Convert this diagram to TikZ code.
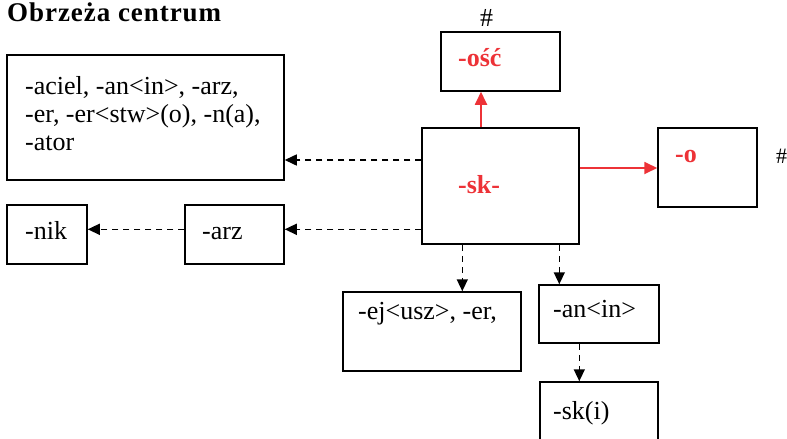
\documentclass[tikz,border=0pt]{standalone}
\usepackage{fontspec}
\setmainfont{Liberation Serif}
\newfontfamily\titlefont[LetterSpace=3.5]{Liberation Serif}
\usetikzlibrary{arrows.meta}
\definecolor{skred}{RGB}{237,50,55}

\begin{document}
\begin{tikzpicture}[
    x=1pt, y=-1pt,
    box/.style={draw, line width=1.5pt, inner sep=0pt},
    txt/.style={anchor=base west, inner sep=0pt, font=\fontsize{26}{28.2}\selectfont},
    hot/.style={txt, font=\fontsize{26}{28.2}\selectfont\bfseries, text=skred},
    dep/.style={line width=1.5pt, dash pattern=on 6pt off 5pt, -{Triangle[length=12pt,width=11pt]}},
    rel/.style={line width=1.8pt, draw=skred, fill=skred, -{Triangle[length=13pt,width=12pt]}}
  ]
  \useasboundingbox (0,0) rectangle (787,439);
  % boxes
  \node[box, minimum width=119pt, minimum height=59pt] (osc) at (500.5,61.5) {};
  \node[box, minimum width=157pt, minimum height=116pt] (sk) at (500.5,186) {};
  \node[box, minimum width=99pt, minimum height=79pt] (o) at (707.5,167.5) {};
  \node[box, minimum width=277pt, minimum height=125pt] (big) at (145.5,117.5) {};
  \node[box, minimum width=80pt, minimum height=59pt] (nik) at (47,234.5) {};
  \node[box, minimum width=99pt, minimum height=59pt] (arz) at (234.5,234.5) {};
  \node[box, minimum width=178pt, minimum height=79pt] (ej) at (432,331.5) {};
  \node[box, minimum width=120pt, minimum height=58pt] (an) at (599,314) {};
  \node[box, minimum width=118pt, minimum height=78pt] (ski) at (599,421) {};
  % texts
  \node[txt, font=\fontsize{27}{30}\selectfont] (title) at (7,21) {\titlefont\bfseries Obrzeża centrum};
  \node[txt] (hash-a) at (480,26) {\#};
  \node[txt, font=\fontsize{22}{24}\selectfont] (hash-b) at (776,163) {\#};
  \node[hot] (osc-t) at (458,66.7) {-ość};
  \node[hot] (sk-t) at (458,193) {-sk-};
  \node[hot] (o-t) at (675,162.7) {-o};
  \node[txt, align=left] (big-t) at (25,150.7) {-aciel, -an<in>, -arz,\\-er, -er<stw>(o), -n(a),\\-ator};
  \node[txt] (nik-t) at (25,239) {-nik};
  \node[txt] (arz-t) at (202,239) {-arz};
  \node[txt] (ej-t) at (358,319) {-ej<usz>, -er,};
  \node[txt] (an-t) at (553,317) {-an<in>};
  \node[txt] (ski-t) at (553,419) {-sk(i)};
  % connectors
  \coordinate (ya) at (0,160);
  \coordinate (yb) at (0,229.3);
  \coordinate (yc) at (0,168);
  \coordinate (xa) at (462.3,0);
  \coordinate (xb) at (559.3,0);
  \coordinate (xc) at (579.3,0);
  \coordinate (xd) at (481,0);
  \draw[rel] (sk.north -| xd) -- (osc.south -| xd);
  \draw[rel] (sk.east |- yc) -- (o.west |- yc);
  \draw[dep] (sk.west |- ya) -- (big.east |- ya);
  \draw[dep] (sk.west |- yb) -- (arz.east |- yb);
  \draw[dep] (arz.west |- yb) -- (nik.east |- yb);
  \draw[dep] (sk.south -| xa) -- (ej.north -| xa);
  \draw[dep] (sk.south -| xb) -- (an.north -| xb);
  \draw[dep] (an.south -| xc) -- (ski.north -| xc);
\end{tikzpicture}
\end{document}
